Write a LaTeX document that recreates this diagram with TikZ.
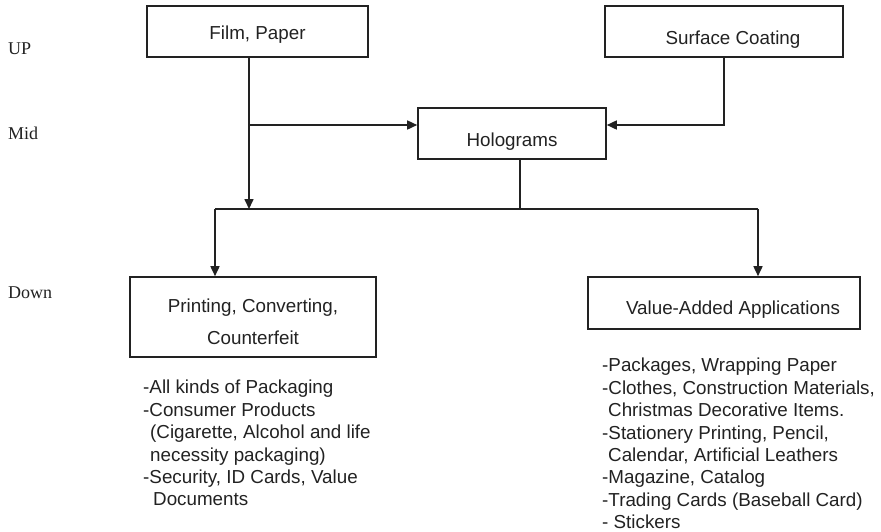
\documentclass[tikz,border=0pt]{standalone}
\usepackage{fontspec}
\setmainfont{Liberation Sans}
\newfontfamily\lblfont{Liberation Serif}
\usetikzlibrary{arrows.meta}
\definecolor{ink}{HTML}{222222}
\begin{document}
\begin{tikzpicture}[x=1pt,y=-1pt,
  every node/.style={text=ink},
  boxnode/.style={draw=ink,line width=1.6pt,inner sep=0pt,align=center,text depth=4pt,font=\fontsize{18.8}{22.4}\selectfont},
  listnode/.style={inner sep=0pt,anchor=north west,align=left,font=\fontsize{18.8}{22.4}\selectfont},
  lvl/.style={inner sep=0pt,anchor=west,font=\lblfont\fontsize{18}{20}\selectfont},
  conn/.style={draw=ink,line width=1.6pt},
  arr/.style={conn,-{Triangle[length=10pt,width=9pt]}}]
\useasboundingbox (0,0) rectangle (881,531);
\fill[white] (0,0) rectangle (881,531);

\node[lvl] (up) at (8,49) {UP};
\node[lvl] (mid) at (8,133) {Mid};
\node[lvl] (down) at (8,293) {Down};

\node[boxnode,minimum width=221pt,minimum height=51pt,text height=20pt] (film) at (257.5,31.5) {Film, Paper};
\node[boxnode,minimum width=238pt,minimum height=51pt,text height=29pt] (coat) at (724,31.5) {\hspace*{18pt}Surface Coating};
\node[boxnode,minimum width=188pt,minimum height=51pt,text height=29pt] (holo) at (512,133.5) {Holograms};
\node[boxnode,minimum width=246pt,minimum height=80pt] (print) at (253,317) {};
\node[inner sep=0pt,anchor=north,align=center,font=\fontsize{18.8}{32}\selectfont] (printtxt) at (253,299) {Printing, Converting,\\Counterfeit};
\node[boxnode,minimum width=272pt,minimum height=52pt,text height=26.6pt] (value) at (724,303) {\hspace*{18pt}Value-Added Applications};

\coordinate (j1) at (249,125);
\coordinate (j2) at (249,209);
\coordinate (sc) at (724,125);
\coordinate (hb) at (520,209);
\coordinate (hl) at (215,209);
\coordinate (hr) at (758,209);

\draw[arr] (film.south -| j1) -- (j2);
\draw[arr] (j1) -- (holo.west |- j1);
\draw[arr] (coat.south) -- (sc) -- (holo.east |- sc);
\draw[conn] (holo.south -| hb) -- (hb);
\draw[conn] (hl) -- (hr);
\draw[arr] (hl) -- (print.north -| hl);
\draw[arr] (hr) -- (value.north -| hr);

\node[listnode] (llist) at (143,380) {-All kinds of Packaging\\-Consumer Products\\\hspace*{7pt}(Cigarette, Alcohol and life\\\hspace*{7pt}necessity packaging)\\-Security, ID Cards, Value\\\hspace*{10pt}Documents};
\node[listnode] (rlist) at (602,358) {-Packages, Wrapping Paper\\-Clothes, Construction Materials,\\\hspace*{6pt}Christmas Decorative Items.\\-Stationery Printing, Pencil,\\\hspace*{6pt}Calendar, Artificial Leathers\\-Magazine, Catalog\\-Trading Cards (Baseball Card)\\- Stickers};
\end{tikzpicture}
\end{document}
